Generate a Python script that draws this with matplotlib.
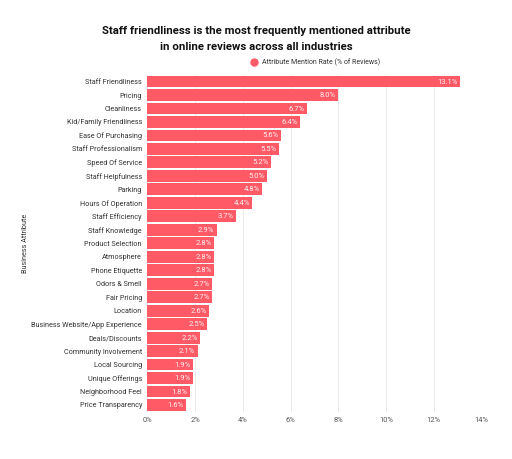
#!/usr/bin/env python3

import numpy as np
from matplotlib import pyplot as plt
from matplotlib.lines import Line2D

# Data
Attributes = ["Staff Friendliness", "Pricing", "Cleanliness", "Kid/Family Friendliness",
              "Ease Of Purchasing", "Staff Professionalism", "Speed Of Service",
              "Staff Helpfulness", "Parking", "Hours Of Operation", "Staff Efficiency",
              "Staff Knowledge", "Product Selection", "Atmosphere", "Phone Etiquette",
              "Odors & Smell", "Fair Pricing", "Location", "Business Website/App Experience",
              "Deals/Discounts", "Community Involvement", "Local Sourcing",
              "Unique Offerings", "Neighborhood Feel", "Price Transparency"]
MentionRate = [13.1, 8.0, 6.7, 6.4, 5.6, 5.5, 5.2, 5.0, 4.8, 4.4, 3.7, 2.9, 2.8, 2.8,
               2.8, 2.7, 2.7, 2.6, 2.5, 2.2, 2.1, 1.9, 1.9, 1.8, 1.6]
XTicks = [0, 2, 4, 6, 8, 10, 12, 14]


def main():
    plt.rcParams['font.family'] = ['Roboto', 'DejaVu Sans']
    BarColor = '#FF5A66'
    TextColor = '#333333'

    fig = plt.figure(figsize=(5.12, 4.59), dpi=100)
    ax = fig.add_axes([0.288, 0.103, 0.652, 0.734])

    Positions = np.arange(len(Attributes))
    ax.barh(Positions, MentionRate, height=0.88, color=BarColor, zorder=2)

    # Value labels inside bar ends
    for Pos, Value in zip(Positions, MentionRate):
        ax.text(Value - 0.1, Pos, f'{Value:.1f}%', ha='right', va='center',
                fontsize=5.5, color='white', alpha=0.9, zorder=3)

    ax.set_ylim(len(Attributes) - 0.5, -0.5)
    ax.set_xlim(0, 14)
    ax.set_yticks(Positions, Attributes)
    ax.set_xticks(XTicks, [f'{t}%' for t in XTicks])
    ax.tick_params(axis='y', length=0, pad=4, labelsize=5.2, labelcolor=TextColor)
    ax.tick_params(axis='x', length=0, pad=4, labelsize=5.4, labelcolor='#555555')
    ax.grid(axis='x', color='#e6e6e6', linewidth=0.6, zorder=0)
    for Spine in ax.spines.values():
        Spine.set_visible(False)

    ax.set_ylabel('Business Attribute', fontsize=5.2, color=TextColor)
    ax.yaxis.set_label_coords(-0.355, 0.5)

    fig.text(0.5, 0.915, 'Staff friendliness is the most frequently mentioned attribute\nin online reviews across all industries',
             ha='center', va='center', fontsize=8.2, fontweight='bold', color='#111111', linespacing=1.7)

    Handle = Line2D([], [], marker='o', linestyle='', color=BarColor, markersize=5)
    fig.legend([Handle], ['Attribute Mention Rate (% of Reviews)'], loc='center',
               bbox_to_anchor=(0.612, 0.864), frameon=False, fontsize=5.0,
               handletextpad=0.1, labelcolor=TextColor)

    fig.savefig('out.png', dpi=100)


if __name__ == '__main__':
    main()
